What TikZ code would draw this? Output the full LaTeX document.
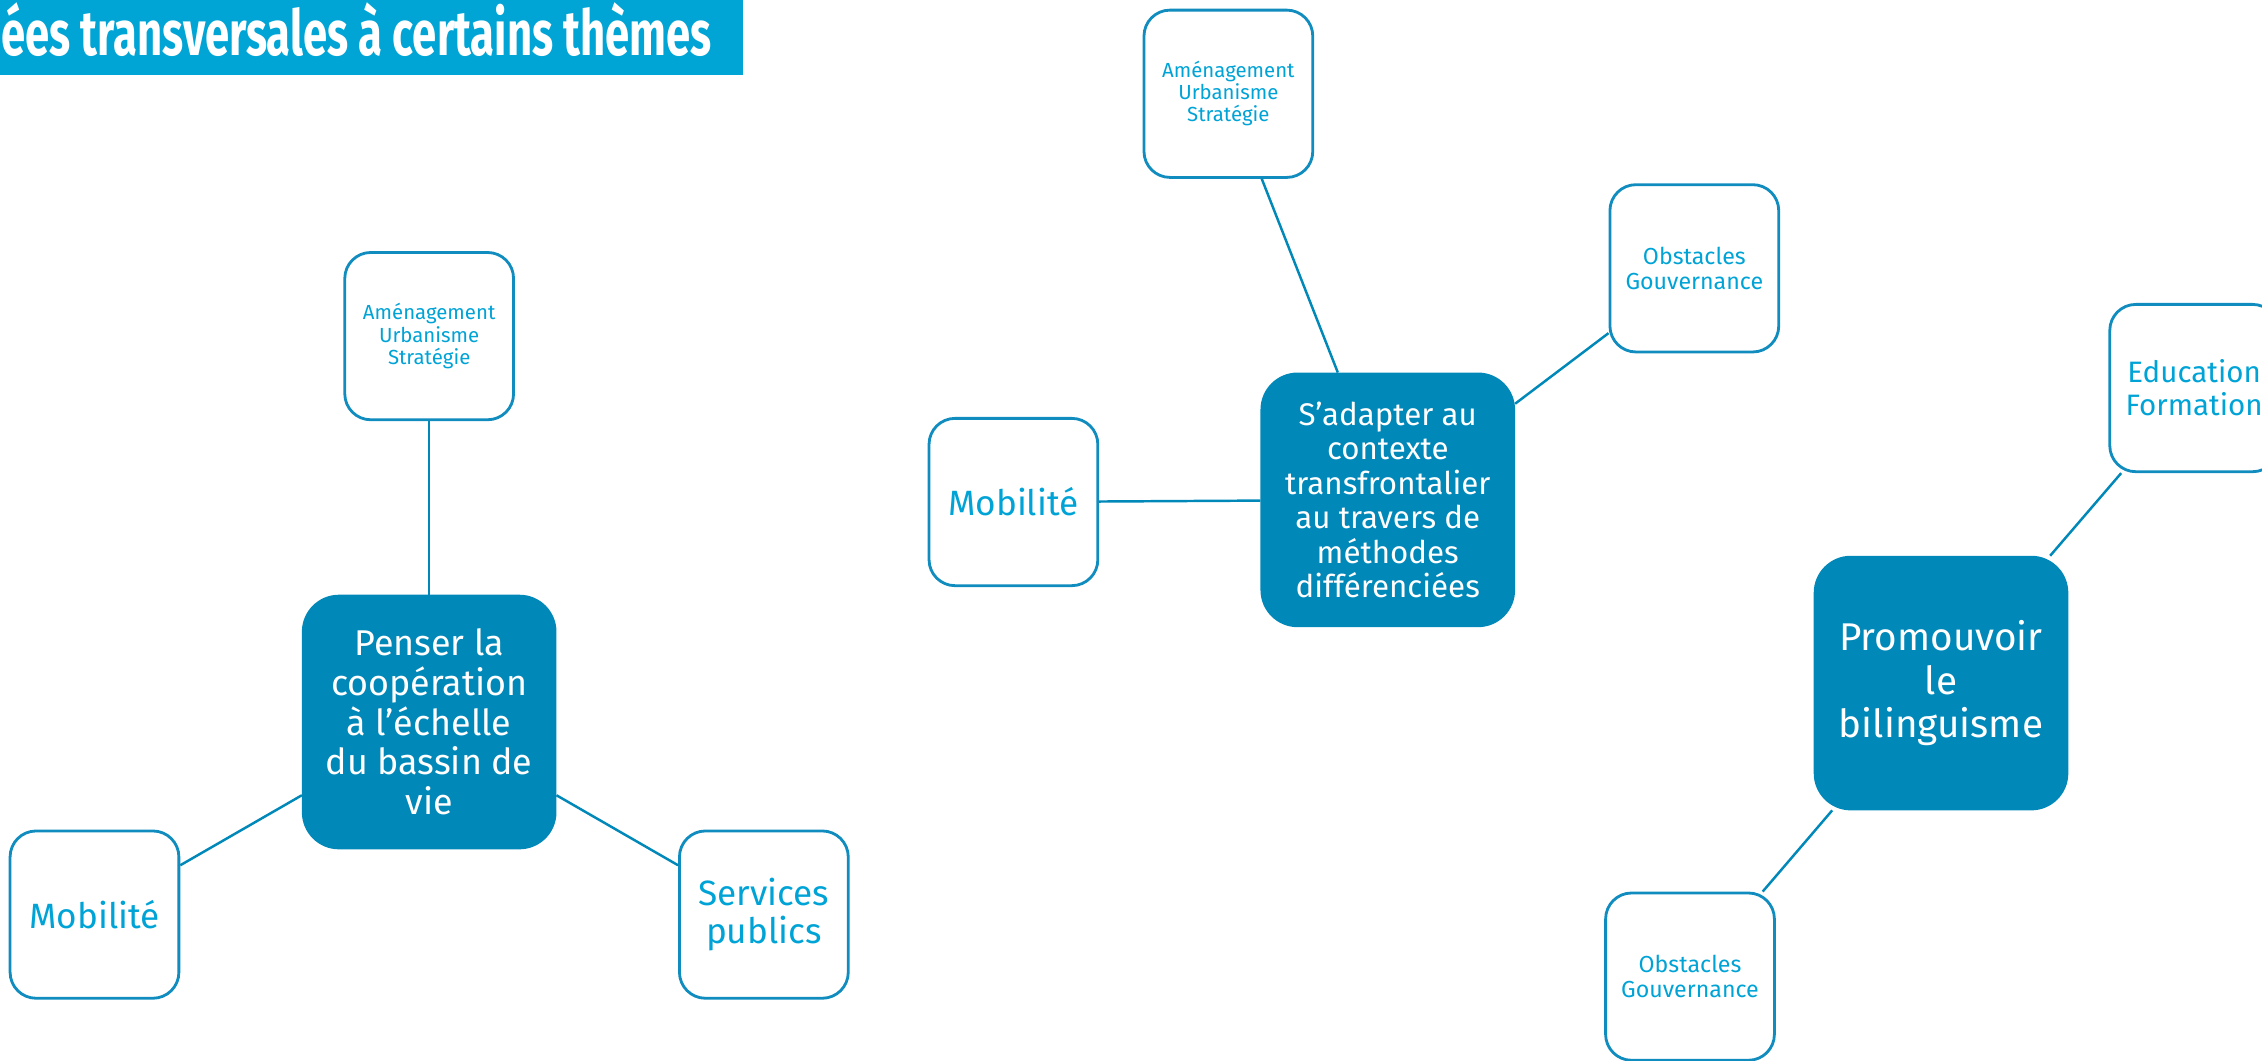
\documentclass[tikz,border=0pt]{standalone}
\usepackage{fontspec}
\setmainfont{Fira Sans}
\newfontfamily\titlefont{Fira Sans}[FakeStretch=0.69]
\definecolor{hubc}{RGB}{0,136,184}
\definecolor{bordc}{RGB}{16,140,190}
\definecolor{txtc}{RGB}{0,163,214}
\definecolor{titlec}{RGB}{0,165,214}
\begin{document}
\begin{tikzpicture}[x=0.14426mm, y=-0.14426mm,
  sat/.style={draw=bordc, line width=0.8pt, fill=white, rounded corners=2.6mm,
    text=txtc, align=center, minimum width=16.88mm, minimum height=16.73mm, inner sep=0pt},
  hub/.style={draw=hubc, line width=0.6pt, fill=hubc, rounded corners=3.6mm,
    text=white, align=center, minimum width=25.25mm, minimum height=25.25mm, inner sep=0pt},
  conn/.style={draw=hubc, line width=0.7pt},
  fxs/.style={font=\fontsize{5.8}{6.3}\selectfont},
  fs/.style={font=\fontsize{6.6}{7}\selectfont},
  fm/.style={font=\fontsize{8.4}{9.4}\selectfont},
  fl/.style={font=\fontsize{10}{10.6}\selectfont},
  fh/.style={font=\fontsize{10.2}{11.3}\selectfont},
  fhs/.style={font=\fontsize{8.9}{9.8}\selectfont},
  fhl/.style={font=\fontsize{11}{12.3}\selectfont}]
\useasboundingbox (0,0) rectangle (1568,735);
\clip (0,0) rectangle (1568,735);
% title
\fill[titlec] (0,0) rectangle (515,52);
\begin{scope}
\clip (0,0) rectangle (515,52);
\node[anchor=base east, text=white, inner sep=0pt, font=\titlefont\bfseries\fontsize{18}{20}\selectfont] (title) at (494,38.5) {Idées transversales à certains thèmes};
\end{scope}
% group 1
\node[sat, fxs] (A1) at (297.5,233) {Aménagement\\Urbanisme\\Stratégie};
\node[hub, fh] (C1) at (297.5,500.5) {Penser la\\coopération\\à l’échelle\\du bassin de\\vie};
\node[sat, fl] (M1) at (65.5,634) {Mobilité};
\node[sat, fl] (S1) at (529.5,634) {Services\\publics};
\draw[conn] (A1) -- (C1);
\draw[conn] (C1) -- (M1);
\draw[conn] (C1) -- (S1);
% group 2
\node[sat, fxs] (A2) at (851.5,65) {Aménagement\\Urbanisme\\Stratégie};
\node[sat, fs] (O2) at (1174.5,186) {Obstacles\\Gouvernance};
\node[hub, fhs] (C2) at (962,346.5) {S’adapter au\\contexte\\transfrontalier\\au travers de\\méthodes\\différenciées};
\node[sat, fl] (M2) at (702.5,348) {Mobilité};
\draw[conn] (A2) -- (C2);
\draw[conn] (O2) -- (C2);
\draw[conn] (M2) -- (C2);
% group 3
\node[sat, fm] (E3) at (1521,269) {Education\\Formation};
\node[hub, fhl] (C3) at (1345.5,473.5) {Promouvoir\\le\\bilinguisme};
\node[sat, fs] (O3) at (1171.5,677) {Obstacles\\Gouvernance};
\draw[conn] (E3) -- (C3);
\draw[conn] (C3) -- (O3);
\end{tikzpicture}
\end{document}
